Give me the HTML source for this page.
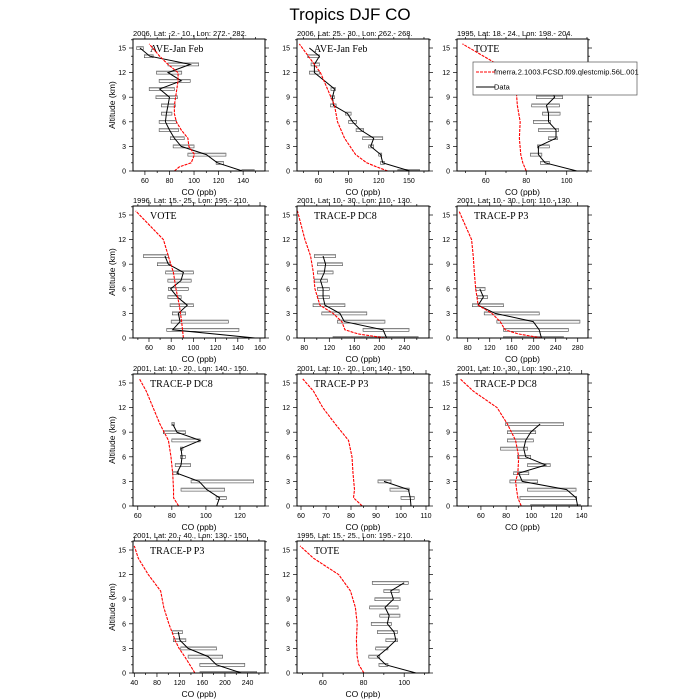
<!DOCTYPE html>
<html><head><meta charset="utf-8"><style>body{margin:0;background:#fff}svg{display:block}</style></head><body>
<svg id="s" width="700" height="700" xmlns="http://www.w3.org/2000/svg" font-family="Liberation Sans, sans-serif">
<text x="350" y="20" font-size="17" text-anchor="middle">Tropics DJF CO</text>
</svg>
<script>
var P=[
{c:0,r:0,xr:[50.3,157.8],t:[60,80,100,120,140],sub:"2006, Lat: -2.- 10., Lon: 272.- 282.",lab:"AVE-Jan Feb",
m:[[84,0],[88,0.5],[97.7,1],[100.4,2],[95.8,3],[95,4],[89.6,5],[85.6,6],[84,7],[84,8],[85,9],[86,10],[87,11],[87,12],[78.8,13],[72,14],[63.5,15.5]],
d:[[139.4,0,139,149],[119,1,118,124],[110,2,95,126],[89.6,3,83,100],[84,4,80.7,92],[80,5,71.6,87.4],[76.7,6,71.6,85.6],[77.5,7,73.4,82],[78.8,8,73.4,84.7],[80,9,69,86.4],[72,10,63.5,84],[89.6,11,71.6,96.9],[78.8,12,69.4,90],[96.9,13,78.8,103.8],[64,14,59.5,66.7],[56,15,53.3,58.7]]},
{c:1,r:0,xr:[38.7,170],t:[60,90,120,150],sub:"2006, Lat: 25.- 30., Lon: 262.- 268.",lab:"AVE-Jan Feb",
m:[[129,0],[118,0.5],[108,1],[97,2],[86,4],[79,6],[76,8],[69,10],[62,12],[41,15.5]],
d:[[151,0,139,160.6],[124,1,121.8,125.7],[122,2,120,123],[112,3,110,115],[115,4,104,124],[102,5,97.5,105],[94,6,90,98],[89,7,87,92.5],[75,8,72,77.6],[74,9,72.5,76],[76,10,72.5,77],[66,11],[56,12,51,61],[56,13,52.7,61],[61,14,49.4,61],[51,15]]},
{c:2,r:0,xr:[45.8,110.5],t:[60,80,100],sub:"1995, Lat: 18.- 24., Lon: 198.- 204.",lab:"TOTE",
m:[[80,0],[78.3,1],[77.3,2],[76.6,4],[77,6],[75.6,8],[75,10],[72.8,12],[48.5,15.5]],
d:[[105,0],[89.3,1,87,91.4],[86,2,82,87.7],[86,3,85.5,91.4],[94.7,4,91,95.4],[94.7,5,86,96],[91,6,83.5,92],[91,7,88,96.7],[90,8,82.7,96.4],[94,9,85,98],[92.6,10,89.3,94.7],[101.3,11,84,101.3]]},
{c:0,r:1,xr:[45.6,164.5],t:[60,80,100,120,140,160],sub:"1996, Lat: 15.- 25., Lon: 195.- 210.",lab:"VOTE",
m:[[91,0],[89.4,2],[87.3,4],[84.3,6],[82,8],[77.4,10],[73,12],[48,15.5]],
d:[[155.5,0],[81.3,1,76,141],[88,2,80,131.5],[86.4,3,81,93],[94.5,4,79,100],[85.5,5,77,89],[79.5,6,77.4,95.4],[88.8,7,77,98],[91,8,75,100],[77.4,9,67.5,79],[74.4,10,55,77.4]]},
{c:1,r:1,xr:[68.3,279.5],t:[80,120,160,200,240],sub:"2001, Lat: 10.- 30., Lon: 110.- 130.",lab:"TRACE-P DC8",
m:[[209,0],[166,0.5],[145,1],[140,2],[126,3],[105,4],[97,6],[94.4,8],[90,10],[81,12],[69,15.5]],
d:[[211.7,0,126,262],[206,1,174,247.5],[144,2,133,209],[137,3,108,180],[113,4,94,145],[110,5,101,120],[110,6,101,120],[106,7,96,117],[112,8,101,126],[114,9,101,141],[110,10,96,130]]},
{c:2,r:1,xr:[60.5,298.7],t:[80,120,160,200,240,280],sub:"2001, Lat: 10.- 30., Lon: 110.- 130.",lab:"TRACE-P P3",
m:[[214,0],[172,0.5],[148,1],[139,2],[124,3],[99,4],[94.5,6],[92,8],[90,10],[87,12],[64,15.5]],
d:[[214,0,145,254],[210,1,145,263],[199,2,133,284],[130,3,110,210],[99,4,88.5,145],[108.5,5,97.6,116],[102,6,94.5,111.5]]},
{c:0,r:2,xr:[57.2,134.7],t:[60,80,100,120],sub:"2001, Lat: 10.- 20., Lon: 140.- 150.",lab:"TRACE-P DC8",
m:[[84,0],[81,1],[81,2],[80.5,4],[79.5,6],[78,8],[73,10],[69,12],[65,14],[61,15.5]],
d:[[106.3,0],[108,1,106,112],[100.5,2,85.4,111],[96,3,91.3,128],[83,4,80.5,84],[85.4,5,82,91],[86,6,85,88],[85.4,7,85,86.5],[96.6,8,80,96.6],[83,9,75,88],[80.5,10,80,81.5]]},
{c:1,r:2,xr:[58.4,111.2],t:[60,70,80,90,100,110],sub:"2001, Lat: 10.- 20., Lon: 140.- 150.",lab:"TRACE-P P3",
m:[[84.5,0],[81,1],[81.4,2],[80.8,4],[80.4,6],[79,8],[73.7,10],[68.7,12],[65,14],[60.7,15.5]],
d:[[104,0],[103.7,1,100,105.3],[103,2,95.6,103.3],[93.2,3,90.8,96]]},
{c:2,r:2,xr:[41,145],t:[60,80,100,120,140],sub:"2001, Lat: 10.- 30., Lon: 190.- 210.",lab:"TRACE-P DC8",
m:[[92,0],[89.3,1],[88.3,2],[87.5,3],[89.3,4],[90,6],[87.5,8],[81,10],[72.8,12],[54,14],[43.5,15.5]],
d:[[136.8,0,99.5,139],[135.5,1,91,136],[128,2,97,135.5],[92.8,3,83,105],[90,4,86,98],[111.5,5,97,115],[95.5,6,89,99.5],[94,7,75.5,97],[95.5,8,81,101.6],[99.5,9,81,103.5],[107,10,79.5,125.6]]},
{c:0,r:3,xr:[37.7,270.7],t:[40,80,120,160,200,240],sub:"2001, Lat: 20.- 40., Lon: 130.- 150.",lab:"TRACE-P P3",
m:[[147,0],[138,1],[129,2],[119,3],[112,4],[101,6],[92,8],[86.5,10],[64.7,12],[47,14],[40,15.5]],
d:[[229,0,156,256],[185,1,155.7,235],[170.5,2,135,196],[135,3,122,185],[120.6,4,109,131],[117.6,5,107.6,125]]},
{c:1,r:3,xr:[47.3,112.2],t:[60,80,100],sub:"1995, Lat: 15.- 25., Lon: 195.- 210.",lab:"TOTE",
m:[[80.2,0],[77.7,1],[76.9,2],[76.5,4],[76.9,6],[76,8],[73.6,10],[67.8,12],[55.4,14],[48.8,15.5]],
d:[[105.8,0],[91,1,87.6,92],[86.8,2,82.6,88],[91.7,3,86,92],[95.9,4,91,96.7],[95,5,86.8,96.7],[91.7,6,83.8,93.7],[92.6,7,88,97.9],[90.6,8,83,97],[94.7,9,85.6,98],[93.4,10,90,97.5],[100,11,84.3,102]]}
];
var X0=[133,297,457],YB=[171,338,506,673],W=132,H=132,K=8.2;
var s=document.getElementById('s'),h='';
P.forEach(function(p){
 var x0=X0[p.c],yb=YB[p.r],yt=yb-H,w=(p.c==2?131:W);
 var fx=function(v){return x0+(v-p.xr[0])/(p.xr[1]-p.xr[0])*w},fy=function(a){return yb-a*K};
 h+='<defs><clipPath id="c'+p.c+p.r+'"><rect x="'+x0+'" y="'+yt+'" width="'+w+'" height="'+H+'"/></clipPath></defs>';
 h+='<text x="'+x0+'" y="'+(yt-3)+'" font-size="7.5">'+p.sub+'</text>';
 h+='<text x="'+(x0+17)+'" y="'+(yt+13)+'" font-size="10" font-family="Liberation Serif, serif">'+p.lab+'</text>';
 for(var a=0;a<=16;a++){var y=fy(a),L=(a%3==0)?4:2;
  h+='<line x1="'+(x0-L)+'" x2="'+x0+'" y1="'+y+'" y2="'+y+'" stroke="#000" stroke-width="0.7"/>';
  h+='<line x1="'+(x0+w)+'" x2="'+(x0+w+L)+'" y1="'+y+'" y2="'+y+'" stroke="#000" stroke-width="0.7"/>';
  if(a%3==0)h+='<text x="'+(x0-7)+'" y="'+(y+2.5)+'" font-size="7" text-anchor="end">'+a+'</text>';}
 var st=p.t[1]-p.t[0];
 for(var v=p.t[0]-st;v<=p.xr[1];v+=st/2){if(v<p.xr[0])continue;var x=fx(v),mj=p.t.indexOf(v)>=0,L=mj?4:2;
  h+='<line x1="'+x+'" x2="'+x+'" y1="'+yb+'" y2="'+(yb+L)+'" stroke="#000" stroke-width="0.7"/>';
  h+='<line x1="'+x+'" x2="'+x+'" y1="'+(yt-L)+'" y2="'+yt+'" stroke="#000" stroke-width="0.7"/>';
  if(mj)h+='<text x="'+x+'" y="'+(yb+12)+'" font-size="7" text-anchor="middle">'+v+'</text>';}
 h+='<text x="'+(x0+w/2)+'" y="'+(yb+24)+'" font-size="8.5" text-anchor="middle">CO (ppb)</text>';
 if(p.c==0)h+='<text transform="translate(115,'+(yb-H/2)+') rotate(-90)" font-size="8.5" text-anchor="middle">Altitude (km)</text>';
 var g='<g clip-path="url(#c'+p.c+p.r+')">';
 p.d.forEach(function(d){if(d.length>2){var x1=fx(d[2]),x2=fx(d[3]);
  g+='<rect x="'+x1+'" y="'+(fy(d[1])-1.5)+'" width="'+Math.max(x2-x1,1)+'" height="3" fill="#fff" stroke="#444" stroke-width="0.6"/>';
  g+='<line x1="'+x1+'" x2="'+x2+'" y1="'+(fy(d[1])-1)+'" y2="'+(fy(d[1])-1)+'" stroke="#999" stroke-width="1"/>';}});
 g+='<polyline fill="none" stroke="#000" stroke-width="1" points="'+p.d.map(function(d){return fx(d[0])+','+fy(d[1])}).join(' ')+'"/>';
 g+='<polyline fill="none" stroke="#f00" stroke-width="1.1" stroke-dasharray="3,1" points="'+p.m.map(function(d){return fx(d[0])+','+fy(d[1])}).join(' ')+'"/>';
 h+=g+'</g>';
 h+='<rect x="'+x0+'" y="'+yt+'" width="'+w+'" height="'+H+'" fill="none" stroke="#000" stroke-width="1"/>';
});
h+='<rect x="473" y="62" width="164" height="33" fill="#fff" stroke="#555" stroke-width="0.7"/>';
h+='<line x1="476" x2="495" y1="72" y2="72" stroke="#f00" stroke-width="1.1" stroke-dasharray="3,1"/>';
h+='<text x="494" y="74.5" font-size="7.5">fmerra.2.1003.FCSD.f09.qlestcmip.56L.001</text>';
h+='<line x1="476" x2="495" y1="87" y2="87" stroke="#000" stroke-width="1"/>';
h+='<text x="494" y="89.5" font-size="7.5">Data</text>';
s.insertAdjacentHTML('beforeend',h);
</script>
</body></html>
